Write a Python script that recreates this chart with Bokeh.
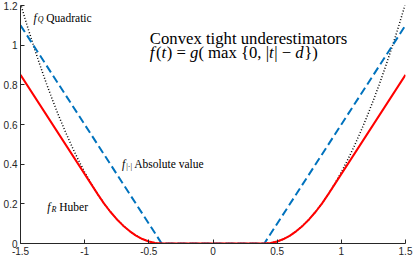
from bokeh.plotting import figure
from bokeh.models import FixedTicker, Range1d
from bokeh.core.properties import value
from bokeh.embed import file_html
from bokeh.resources import INLINE

# ---- data ----
t_abs = [-1.5, -0.4, 0.4, 1.5]
f_abs = [1.1, 0.0, 0.0, 1.1]

t_quad = [-1.5, -1.45, -1.4, -1.35, -1.3, -1.25, -1.2, -1.15, -1.1, -1.05, -1.0,
          -0.95, -0.9, -0.85, -0.8, -0.75, -0.7, -0.65, -0.6, -0.55, -0.5, -0.45, -0.4,
          0.4, 0.45, 0.5, 0.55, 0.6, 0.65, 0.7, 0.75, 0.8, 0.85, 0.9, 0.95,
          1.0, 1.05, 1.1, 1.15, 1.2, 1.25, 1.3, 1.35, 1.4, 1.45, 1.5]
f_quad = [1.21, 1.1025, 1.0, 0.9025, 0.81, 0.7225, 0.64, 0.5625, 0.49, 0.4225, 0.36,
          0.3025, 0.25, 0.2025, 0.16, 0.1225, 0.09, 0.0625, 0.04, 0.0225, 0.01, 0.0025, 0.0,
          0.0, 0.0025, 0.01, 0.0225, 0.04, 0.0625, 0.09, 0.1225, 0.16, 0.2025, 0.25, 0.3025,
          0.36, 0.4225, 0.49, 0.5625, 0.64, 0.7225, 0.81, 0.9025, 1.0, 1.1025, 1.21]

t_hub = [-1.5, -0.9, -0.85, -0.8, -0.75, -0.7, -0.65, -0.6, -0.55, -0.5, -0.45, -0.4,
         0.4, 0.45, 0.5, 0.55, 0.6, 0.65, 0.7, 0.75, 0.8, 0.85, 0.9, 1.5]
f_hub = [0.85, 0.25, 0.2025, 0.16, 0.1225, 0.09, 0.0625, 0.04, 0.0225, 0.01, 0.0025, 0.0,
         0.0, 0.0025, 0.01, 0.0225, 0.04, 0.0625, 0.09, 0.1225, 0.16, 0.2025, 0.25, 0.85]

x_ticks = [-1.5, -1.0, -0.5, 0.0, 0.5, 1.0, 1.5]
x_tick_labels = ["-1.5", "-1", "-0.5", "0", "0.5", "1", "1.5"]
y_ticks = [0.0, 0.2, 0.4, 0.6, 0.8, 1.0, 1.2]
y_tick_labels = ["0", "0.2", "0.4", "0.6", "0.8", "1", "1.2"]

title_line1 = "Convex tight underestimators"

AX = "#262626"
SERIF = "Liberation Serif"

p = figure(width=415, height=257, output_backend="svg", toolbar_location=None,
           x_range=Range1d(-1.5, 1.5), y_range=Range1d(0, 1.2),
           min_border_left=18, min_border_right=10, min_border_top=5, min_border_bottom=0)
p.outline_line_color = None
p.grid.visible = False
p.background_fill_color = "white"

for ax, ticks, labels in ((p.xaxis[0], x_ticks, x_tick_labels), (p.yaxis[0], y_ticks, y_tick_labels)):
    ax.ticker = FixedTicker(ticks=ticks)
    ax.major_label_overrides = {t: l for t, l in zip(ticks, labels)}
    ax.major_tick_in = 4
    ax.major_tick_out = 0
    ax.minor_tick_line_color = None
    ax.axis_line_color = AX
    ax.major_tick_line_color = AX
    ax.major_label_text_color = AX
    ax.major_label_text_font = "Liberation Sans"
    ax.major_label_text_font_size = "10px"
    ax.major_label_standoff = 3

p.line(t_quad, f_quad, line_color="black", line_width=1.5, line_dash="1 2")
p.line(t_abs, f_abs, line_color="#0072BD", line_width=2, line_dash="8 4")
p.line(t_hub, f_hub, line_color="#FF0000", line_width=2)

TW = {' ': 0.25, '(': 0.333, ')': 0.333, '=': 0.564, '{': 0.48, '}': 0.48, '|': 0.2,
      ',': 0.25, '0': 0.5, '−': 0.564, 'm': 0.778, 'a': 0.444, 'x': 0.5, 'f': 0.278,
      't': 0.278, 'g': 0.5, 'd': 0.5, 'Q': 0.722, 'R': 0.611, '·': 0.25}


def rich(x, y, pieces):
    dx = 0.0
    for s, style, size, dy, extra in pieces:
        lead = len(s) - len(s.lstrip(" "))
        dx += lead * TW[' '] * size
        s = s.lstrip(" ")
        p.text(x=[x], y=[y], text=[s], x_offset=dx, y_offset=dy,
               text_font=value(SERIF), text_font_size=f"{size}px",
               text_font_style=style, text_color="black",
               text_baseline="alphabetic", text_align="left")
        dx += sum(TW.get(c, 0.5) for c in s) * size + extra


p.text(x=[-0.492], y=[1.033], text=[title_line1], text_font=value(SERIF),
       text_font_size="16.7px", text_color="black", text_baseline="alphabetic")

rich(-0.492, 0.962, [("f", "italic", 16.7, 0, 1.5), ("(", "normal", 16.7, 0, 0),
                     ("t", "italic", 16.7, 0, 0.5), (") = ", "normal", 16.7, 0, 0),
                     ("g", "italic", 16.7, 0, 0), ("( max {0, |", "normal", 16.7, 0, 0),
                     ("t", "italic", 16.7, 0, 0.5), ("| − ", "normal", 16.7, 0, 0),
                     ("d", "italic", 16.7, 0, 0.5), ("})", "normal", 16.7, 0, 0)])

rich(-1.399, 1.139, [("f", "italic", 11.5, 0, 1), ("Q", "italic", 8, 2, 0),
                     (" Quadratic", "normal", 11.5, 0, 1)])
rich(-0.709, 0.40, [("f", "italic", 11.5, 0, 1), ("|·|", "normal", 8, 2, 0),
                    (" Absolute value", "normal", 11.5, 0, 1)])
rich(-1.291, 0.182, [("f", "italic", 11.5, 0, 1), ("R", "italic", 8, 2, 0),
                     (" Huber", "normal", 11.5, 0, 1)])

open("out.html", "w").write(file_html(p, INLINE))
